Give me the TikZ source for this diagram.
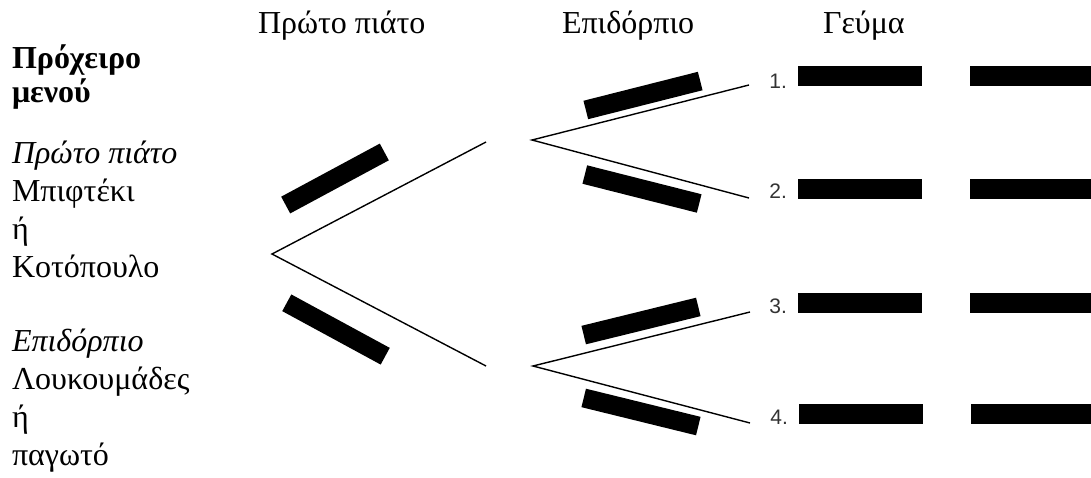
\documentclass[tikz,border=0pt]{standalone}
\usepackage{fontspec}
\setmainfont{Liberation Serif}
\newfontfamily\numfont{Liberation Sans}
\usetikzlibrary{positioning}

\begin{document}
\begin{tikzpicture}[
  x=0.5pt, y=-0.5pt,
  every node/.style={inner sep=0pt, outer sep=0pt},
  txt/.style   ={font=\fontsize{16pt}{19pt}\selectfont},
  menu/.style  ={txt, align=left},
  slab/.style  ={fill=black, minimum width=56pt, minimum height=9.5pt},
  rowbar/.style={fill=black, minimum width=62pt, minimum height=10pt},
  num/.style   ={font=\numfont\fontsize{10.5pt}{12pt}\selectfont, black!80},
  branch/.style={line width=0.7pt},
  node distance=24pt
]
\useasboundingbox (0,0) rectangle (1091,477);

%% --- Column headers ------------------------------------------
\node[txt, anchor=base west] (hdr_first) at (258,33) {Πρώτο πιάτο};
\node[txt, anchor=base west] (hdr_sweet) at (562,33) {Επιδόρπιο};
\node[txt, anchor=base west] (hdr_meal)  at (823,33) {Γεύμα};

%% --- Menu text (left), anchored at the last line ------------
\node[menu, font=\fontsize{16pt}{17pt}\selectfont, anchor=base west] (title) at (12,102)
     {\textbf{Πρόχειρο}\\\textbf{μενού}};
\node[menu, anchor=base west] (dish1) at (12,277)
     {\textit{Πρώτο πιάτο}\\Μπιφτέκι\\ή\\Κοτόπουλο};
\node[menu, anchor=base west] (dish2) at (12,465)
     {\textit{Επιδόρπιο}\\Λουκουμάδες\\ή\\παγωτό};

%% --- First course branch -------------------------------------
\coordinate (r1)  at (272,254);
\coordinate (r1a) at (486,142);
\coordinate (r1b) at (486,366);
\draw[branch] (r1a) -- (r1) -- (r1b);
\node[slab, rotate=28.3]  (s1a) at (335,178.5) {};
\node[slab, rotate=-28.5] (s1b) at (336,329.5) {};

%% --- Dessert branches ----------------------------------------
\coordinate (r2)  at (532,140);
\coordinate (e1)  at (749,85);
\coordinate (e2)  at (749,198);
\draw[branch] (e1) -- (r2) -- (e2);
\node[slab, minimum width=59pt, rotate=14.2]  (s2a) at (643,95.5) {};
\node[slab, minimum width=59pt, rotate=-14.2] (s2b) at (642,189) {};

\coordinate (r3)  at (533,366);
\coordinate (e3)  at (750,312);
\coordinate (e4)  at (750,423);
\draw[branch] (e3) -- (r3) -- (e4);
\node[slab, minimum width=59pt, rotate=13.8]  (s3a) at (641,321) {};
\node[slab, minimum width=59pt, rotate=-13.8] (s3b) at (641,412) {};

%% --- Meal rows -----------------------------------------------
\node[rowbar, anchor=west] (g1) at (798,76)  {};
\node[rowbar, anchor=west] (g2) at (798,189) {};
\node[rowbar, anchor=west] (g3) at (798,303) {};
\node[rowbar, anchor=west] (g4) at (799,414) {};
\node[rowbar, minimum width=60.5pt, right=24pt of g1] (h1) {};
\node[rowbar, minimum width=60.5pt, right=24pt of g2] (h2) {};
\node[rowbar, minimum width=60.5pt, right=24pt of g3] (h3) {};
\node[rowbar, minimum width=60pt,   right=24pt of g4] (h4) {};

% row numbers
\node[num, left=5.5pt of g1, yshift=-2.5pt] (n1) {1.};
\node[num, left=5.5pt of g2, yshift=-1pt]   (n2) {2.};
\node[num, left=5.5pt of g3, yshift=-1.5pt] (n3) {3.};
\node[num, left=5.5pt of g4, yshift=-1.5pt] (n4) {4.};

\end{tikzpicture}
\end{document}
